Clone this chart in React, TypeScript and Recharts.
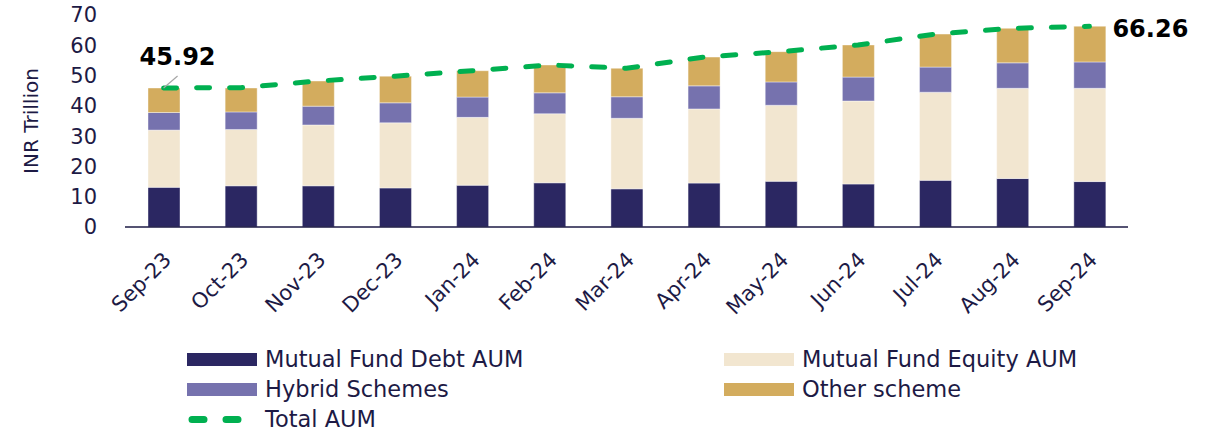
import React from "react";
import {
  ComposedChart,
  Bar,
  Line,
  XAxis,
  YAxis,
  LabelList,
} from "recharts";

const months = [
  "Sep-23", "Oct-23", "Nov-23", "Dec-23", "Jan-24", "Feb-24", "Mar-24",
  "Apr-24", "May-24", "Jun-24", "Jul-24", "Aug-24", "Sep-24",
];
const debtAum = [13.1, 13.6, 13.6, 12.9, 13.8, 14.6, 12.6, 14.5, 15.1, 14.2, 15.4, 16.0, 15.0];
const equityAum = [18.9, 18.6, 20.1, 21.5, 22.4, 22.8, 23.3, 24.5, 25.1, 27.4, 29.1, 29.8, 30.8];
const hybridAum = [5.8, 5.8, 6.2, 6.6, 6.7, 6.9, 7.1, 7.6, 7.7, 7.9, 8.3, 8.4, 8.7];
const otherAum = [8.1, 7.9, 8.3, 8.8, 8.7, 9.2, 9.4, 9.5, 10.0, 10.6, 10.9, 11.4, 11.8];
const totalAum = [45.92, 46.0, 48.2, 49.8, 51.6, 53.5, 52.4, 56.1, 57.9, 60.1, 63.7, 65.6, 66.26];
const yTicks = [0, 10, 20, 30, 40, 50, 60, 70];

const NAVY = "#1d1a45";
const FONT = "'DejaVu Sans', sans-serif";

const chartData = months.map((m, i) => ({
  month: m,
  debt: debtAum[i],
  equity: equityAum[i],
  hybrid: hybridAum[i],
  other: otherAum[i],
  total: totalAum[i],
}));

const COLORS = {
  debt: "#2b2762",
  equity: "#f2e6d0",
  hybrid: "#7672ae",
  other: "#d3ac5e",
  total: "#00b050",
};

const XTick = ({ x, y, payload }: any) => {
  const tx = x + 9;
  const ty = y + 26;
  return (
    <text
      x={tx}
      y={ty}
      transform={`rotate(-45 ${tx} ${ty})`}
      textAnchor="end"
      fill={NAVY}
      fontSize={21}
      fontFamily={FONT}
    >
      {payload.value}
    </text>
  );
};

// only first and last points get a value label
const totalLabel = (props: any) => {
  const { x, y, value, index } = props;
  const last = totalAum.length - 1;
  if (index === 0) {
    return (
      <g>
        <line x1={x} y1={y} x2={x + 14} y2={y - 12} stroke="#a6a6a6" strokeWidth={1.2} />
        <text x={x + 14} y={y - 23} textAnchor="middle" fontSize={24} fontWeight="bold" fontFamily={FONT} fill="#000">
          {value.toFixed(2)}
        </text>
      </g>
    );
  }
  if (index === last) {
    return (
      <text x={x + 23} y={y + 11} textAnchor="start" fontSize={24} fontWeight="bold" fontFamily={FONT} fill="#000">
        {value.toFixed(2)}
      </text>
    );
  }
  return null;
};

const legendItems = [
  { name: "Mutual Fund Debt AUM", color: COLORS.debt, kind: "bar" },
  { name: "Mutual Fund Equity AUM", color: COLORS.equity, kind: "bar" },
  { name: "Hybrid Schemes", color: COLORS.hybrid, kind: "bar" },
  { name: "Other scheme", color: COLORS.other, kind: "bar" },
  { name: "Total AUM", color: COLORS.total, kind: "line" },
];

const Legend = () => (
  <div
    style={{
      position: "absolute",
      left: 187,
      top: 344,
      display: "grid",
      gridTemplateColumns: "537px 420px",
      fontFamily: FONT,
      fontSize: 22.5,
      color: NAVY,
    }}
  >
    {legendItems.map((item) => (
      <div key={item.name} style={{ display: "flex", alignItems: "center", height: 30 }}>
        {item.kind === "bar" ? (
          <div style={{ width: 70, height: 13, background: item.color, marginRight: 8 }} />
        ) : (
          <svg width={78} height={13} style={{ display: "block" }}>
            <line
              x1={5}
              y1={6.5}
              x2={60}
              y2={6.5}
              stroke={item.color}
              strokeWidth={7}
              strokeLinecap="round"
              strokeDasharray="12 22"
            />
          </svg>
        )}
        <span style={{ whiteSpace: "nowrap" }}>{item.name}</span>
      </div>
    ))}
  </div>
);

export default function App() {
  return (
    <div style={{ position: "absolute", left: 0, top: 0, width: 1206, height: 431, background: "#fff" }}>
      <ComposedChart
        width={1206}
        height={431}
        data={chartData}
        margin={{ top: 15, right: 78, left: 0, bottom: 0 }}
        barSize={32}
      >
        <XAxis
          dataKey="month"
          height={204}
          interval={0}
          tickLine={false}
          axisLine={{ stroke: NAVY, strokeWidth: 1.5 }}
          tick={<XTick />}
        />
        <YAxis
          width={125}
          domain={[0, 70]}
          ticks={yTicks}
          interval={0}
          axisLine={false}
          tickLine={false}
          tickMargin={22}
          tick={{ fill: NAVY, fontSize: 21, fontFamily: FONT }}
          label={{
            value: "INR Trillion",
            angle: -90,
            position: "insideLeft",
            dx: 26,
            style: { fill: NAVY, fontSize: 20, fontFamily: FONT, textAnchor: "middle" },
          }}
        />
        <Bar dataKey="debt" stackId="a" fill={COLORS.debt} stroke="#fff" strokeOpacity={0.4} isAnimationActive={false} />
        <Bar dataKey="equity" stackId="a" fill={COLORS.equity} stroke="#fff" strokeOpacity={0.4} isAnimationActive={false} />
        <Bar dataKey="hybrid" stackId="a" fill={COLORS.hybrid} stroke="#fff" strokeOpacity={0.4} isAnimationActive={false} />
        <Bar dataKey="other" stackId="a" fill={COLORS.other} stroke="#fff" strokeOpacity={0.4} isAnimationActive={false} />
        <Line
          dataKey="total"
          type="linear"
          stroke={COLORS.total}
          strokeWidth={5}
          strokeLinecap="round"
          strokeDasharray="13 20"
          dot={false}
          activeDot={false}
          isAnimationActive={false}
        >
          <LabelList dataKey="total" content={totalLabel} />
        </Line>
      </ComposedChart>
      <Legend />
    </div>
  );
}
